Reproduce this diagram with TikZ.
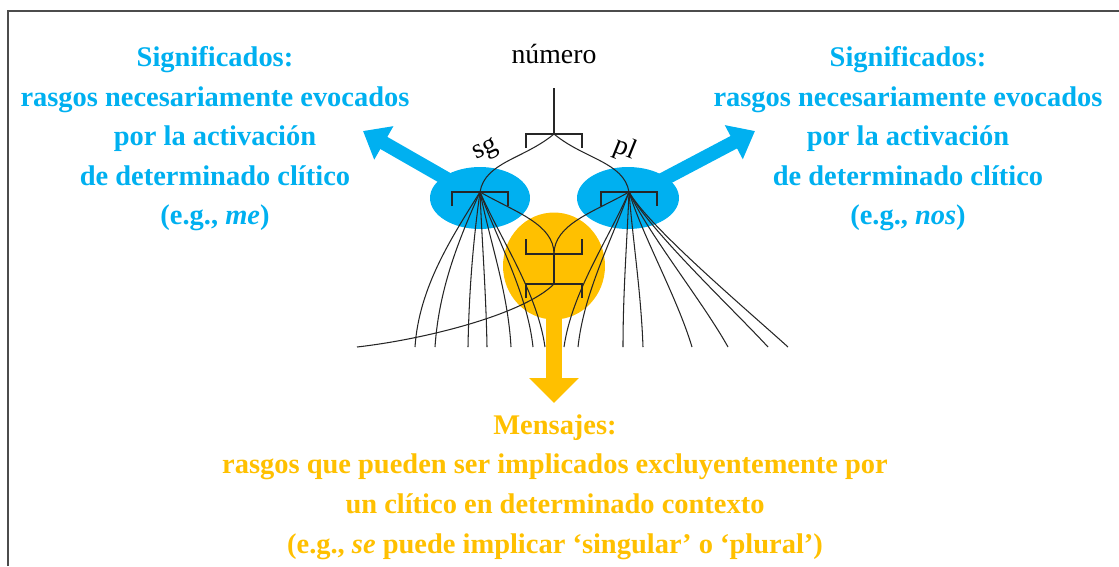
\documentclass[tikz,border=0pt]{standalone}
\usepackage{fontspec}
\setmainfont{Liberation Serif}
\usetikzlibrary{shapes.geometric,arrows.meta}
\definecolor{sigblue}{HTML}{00B0F0}
\definecolor{msgorange}{HTML}{FFC000}
\newcommand{\featbracket}[2]{\draw[netline] (#1) +(-28,#2) -- +(-28,0) -- +(28,0) -- +(28,#2);}
\tikzstyle{netline}=[black!85, line width=0.6pt]
\tikzstyle{blob}=[ellipse, inner sep=0, outer sep=0]
\tikzstyle{bigtext}=[font={\fontsize{16.2}{22.5}\selectfont\bfseries}, align=center, inner sep=0]
\tikzstyle{smalltext}=[font={\fontsize{15.8}{19}\selectfont}, inner sep=0]

\begin{document}
\begin{tikzpicture}[x=0.02cm, y=-0.02cm]
\useasboundingbox (0,0) rectangle (1119,566);
\draw[black!70, line width=0.9pt] (8,566) -- (8,11) -- (1119,11);

\coordinate (numstem) at (554,88);
\coordinate (top) at (554,134);
\coordinate (sgj) at (480,192);
\coordinate (plj) at (629,192);
\coordinate (msgup) at (554,254);
\coordinate (msglow) at (554,284);
\coordinate (leftend) at (357,347);
\coordinate (sgc) at (480,198);
\coordinate (plc) at (628,198);
\coordinate (msgc) at (554,266);
\coordinate (sgtip) at (363,131);
\coordinate (pltip) at (755,131);
\coordinate (msgtip) at (554,403);

% arrows behind the blobs
\draw[line width=0.28cm, sigblue, -{Triangle[length=0.48cm, width=0.74cm]}] (sgc) -- (sgtip);
\draw[line width=0.28cm, sigblue, -{Triangle[length=0.48cm, width=0.74cm]}] (plc) -- (pltip);
\draw[line width=0.32cm, msgorange, -{Triangle[length=0.5cm, width=0.96cm]}] (msgc) -- (msgtip);

\node[blob, fill=sigblue, minimum width=2cm, minimum height=1.24cm] (sg) at (sgc) {};
\node[blob, fill=sigblue, minimum width=2.04cm, minimum height=1.24cm] (pl) at (plc) {};
\node[blob, fill=msgorange, minimum width=2.04cm, minimum height=2.14cm] (msg) at (msgc) {};

\node[smalltext, anchor=base] (numero) at (554,63) {número};
\node[smalltext, rotate=25] (sglabel) at (486,151) {sg};
\node[smalltext, rotate=-22] (pllabel) at (625,149) {pl};

% network
\draw[netline] (numstem) -- (top);
\featbracket{top}{14}
\featbracket{sgj}{14}
\featbracket{plj}{14}
\featbracket{msgup}{-15}
\featbracket{msglow}{14}
\draw[netline] (top) .. controls +(-30,25) and +(5,-30) .. (sgj);
\draw[netline] (top) .. controls +(30,25) and +(-5,-30) .. (plj);
\draw[netline] (sgj) .. controls +(35,20) and +(0,-30) .. (msgup);
\draw[netline] (plj) .. controls +(-35,20) and +(0,-30) .. (msgup);
\draw[netline] (msgup) -- (msglow);
\draw[netline] (msglow) .. controls +(-30,30) and +(70,-8) .. (leftend);

\foreach \ex/\ax/\ay/\bx/\by in {415/-28/45/4/-60, 435/-20/45/4/-60, 468/-7/50/1/-55, 487/2/50/-1/-55, 511/10/50/-3/-55, 533/18/50/-6/-55, 545/22/50/-8/-55}
{
\coordinate (fan) at (\ex,347);
\draw[netline] (sgj) .. controls +(\ax,\ay) and +(\bx,\by) .. (fan);
}
\foreach \ex/\ax/\ay/\bx/\by in {564/-22/50/8/-55, 578/-18/50/6/-55, 623/-2/50/0/-55, 643/4/50/-2/-55, 692/14/45/-15/-50, 728/18/40/-25/-45, 768/20/38/-35/-38, 788/20/35/-42/-38}
{
\coordinate (fan) at (\ex,347);
\draw[netline] (plj) .. controls +(\ax,\ay) and +(\bx,\by) .. (fan);
}

% texts
\node[bigtext, text=sigblue] (sigleft) at (215,139) {Significados:\\rasgos necesariamente evocados\\por la activación\\de determinado clítico\\(e.g., \textit{me})};
\node[bigtext, text=sigblue] (sigright) at (908,139) {Significados:\\rasgos necesariamente evocados\\por la activación\\de determinado clítico\\(e.g., \textit{nos})};
\node[bigtext, text=msgorange] (msgtext) at (555,487) {Mensajes:\\rasgos que pueden ser implicados excluyentemente por\\un clítico en determinado contexto\\(e.g., \textit{se} puede implicar ‘singular’ o ‘plural’)};
\end{tikzpicture}
\end{document}
